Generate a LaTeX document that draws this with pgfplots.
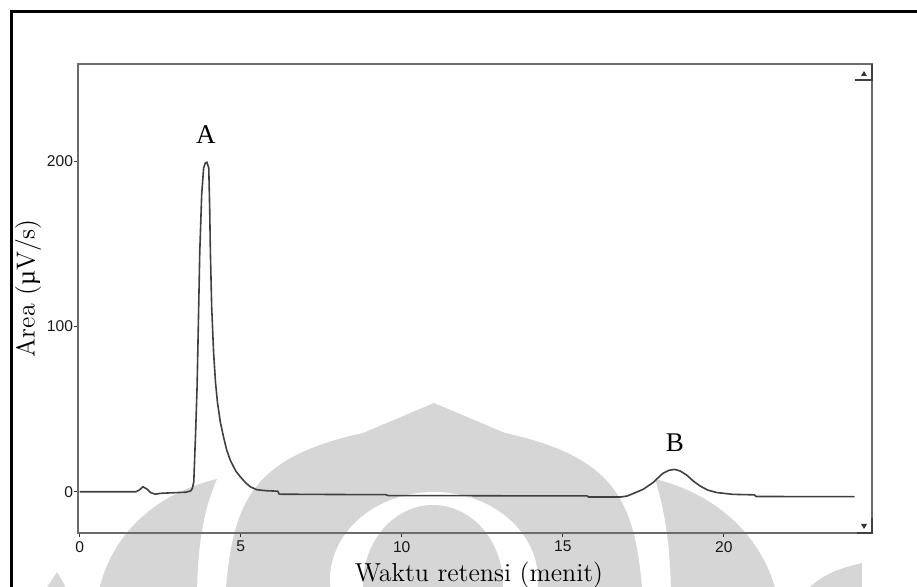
\documentclass[border=0pt]{standalone}
\usepackage{pgfplots}
\pgfplotsset{compat=1.18}
\usepackage{fontspec}
\newfontfamily\tickfont{Liberation Sans}
\newfontfamily\timesfont{Liberation Serif}
\definecolor{wm}{gray}{0.84}
\definecolor{curve}{gray}{0.25}
\definecolor{axgray}{gray}{0.42}
\begin{document}
\begin{tikzpicture}
\path[use as bounding box] (0,0) rectangle (458.5pt,-293.5pt);
\begin{scope}[x=0.5pt,y=-0.5pt]
\clip (0,0) rectangle (917,587);
\fill[wm] (225,600) .. controls (232,505) and (248,458) .. (363,433) -- (434,403) -- (505,433) .. controls (620,458) and (636,505) .. (643,600) -- cycle;
\fill[white] (434,580) ellipse [x radius=104, y radius=88];
\fill[wm] (433,585) ellipse [x radius=70, y radius=80];
\fill[wm] (97,600) .. controls (107,540) and (150,495) .. (217,479) .. controls (203,510) and (197,550) .. (197,600) -- cycle;
\fill[wm] (778,600) .. controls (766,540) and (720,495) .. (655,479) .. controls (665,510) and (671,550) .. (671,600) -- cycle;
\fill[wm] (44,592) -- (57,572) .. controls (62,580) .. (68,592) -- cycle;
\fill[wm] (805,592) .. controls (820,575) and (840,568) .. (862,563) -- (862,592) -- cycle;
\end{scope}
\begin{axis}[
  at={(39pt,-266.5pt)}, anchor=south west,
  width=397pt, height=234.5pt, scale only axis,
  xmin=-0.05, xmax=24.6, ymin=-25, ymax=259,
  xtick={0,5,10,15,20}, ytick={0,100,200},
  tick align=outside, tick pos=left, major tick length=2pt,
  axis line style={axgray, line width=1.1pt},
  tick style={black!80, line width=0.6pt},
  /pgf/number format/assume math mode=true,
  ticklabel style={font=\tickfont\fontsize{7.8}{8}\selectfont, text=black!90, inner sep=0.3pt},
  xticklabel style={yshift=-1.6pt},
  xlabel={Waktu retensi (menit)},
  xlabel style={at={(axis description cs:0.505,0)}, anchor=north, yshift=-14.5pt, inner sep=0pt, font=\fontsize{13}{15}\selectfont},
  ylabel={Area ({\timesfont µ}V/s)},
  ylabel style={at={(axis description cs:-0.046,0.522)}, anchor=south, inner sep=0pt, font=\fontsize{13}{15}\selectfont},
  clip=false,
]
\addplot[curve, line width=0.8pt, mark=none] coordinates {
(0,0) (1.75,0) (1.85,1) (1.97,3) (2.1,1.5) (2.2,-0.5) (2.35,-1.5) (2.5,-1) (2.7,-0.8)
(3.3,-0.3) (3.45,0.5) (3.5,2) (3.545,6) (3.6,35) (3.648,64) (3.69,105) (3.73,145)
(3.79,180) (3.85,196) (3.9,199) (3.95,199.5) (4.01,196) (4.04,170) (4.06,145) (4.1,112)
(4.16,84) (4.22,66) (4.28,54) (4.37,42) (4.47,33) (4.57,25) (4.68,19) (4.85,12.5)
(4.99,9) (5.15,5.5) (5.3,3) (5.5,1.2) (5.8,0.6) (6.15,0.3) (6.2,-1.5) (8,-1.7)
(9.5,-1.8) (9.6,-2.4) (12,-2.4) (13.5,-2.5) (15.75,-2.5) (15.8,-3.2) (16.8,-3.2)
(17.0,-2.6) (17.2,-1) (17.5,1.5) (17.8,5.5) (18.1,11) (18.3,13) (18.48,13.5)
(18.65,12.5) (18.85,10) (19.05,6.5) (19.26,3.5) (19.5,1) (19.78,-0.5) (20.28,-1.6)
(20.95,-1.9) (21.0,-2.9) (24.06,-3)
};
\node[font=\timesfont\fontsize{13.5}{15}\selectfont, inner sep=0pt] at (axis cs:3.92,216) {A};
\node[font=\timesfont\fontsize{13.5}{15}\selectfont, inner sep=0pt] at (axis cs:18.48,29.7) {B};
\end{axis}
\begin{scope}[x=0.5pt,y=-0.5pt]
\draw[line width=1.2pt] (11.5,587) -- (11.5,11.5) -- (917,11.5);
\draw[black!75,line width=1pt] (855,80) -- (872,80);
\draw[black!75,line width=1.2pt] (872,64) -- (872,81);
\fill[black!80] (861,76) -- (867,76) -- (864,71) -- cycle;
\draw[black!75,line width=1.2pt] (857,533) -- (872,533) -- (872,518);
\fill[black!80] (861,524) -- (867,524) -- (864,529) -- cycle;
\end{scope}
\end{tikzpicture}
\end{document}
